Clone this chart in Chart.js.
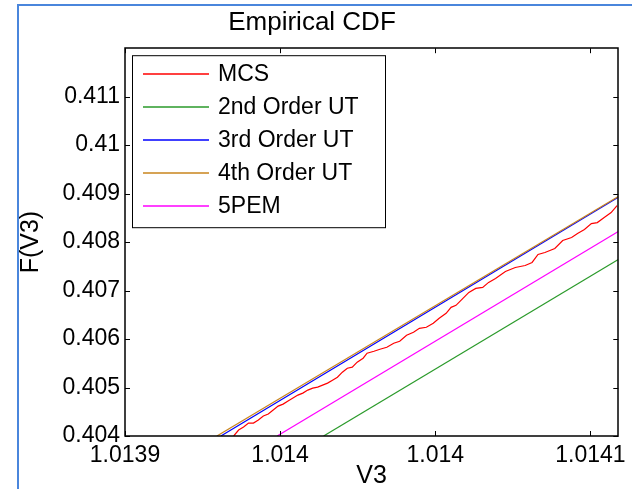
<!DOCTYPE html>
<html>
<head>
<meta charset="utf-8">
<script src="https://cdn.jsdelivr.net/npm/chart.js@4.4.1/dist/chart.umd.min.js"></script>
<style>
html, body { margin: 0; padding: 0; background: #fff; }
</style>
</head>
<body>
<canvas id="cdfChart" width="632" height="489"></canvas>
<script>
// Monte Carlo empirical CDF of V3 (stepped trace)
const mcsX = [1.01393503, 1.01393662, 1.01393822, 1.01393981, 1.01394140, 1.01394299, 1.01394459, 1.01394618,
    1.01394777, 1.01394936, 1.01395096, 1.01395255, 1.01395414, 1.01395573, 1.01395732, 1.01395892,
    1.01396051, 1.01396210, 1.01396369, 1.01396529, 1.01396688, 1.01396847, 1.01397006, 1.01397166,
    1.01397325, 1.01397484, 1.01397675, 1.01397803, 1.01398025, 1.01398217, 1.01398439, 1.01398662,
    1.01398854, 1.01399076, 1.01399299, 1.01399490, 1.01399713, 1.01399936, 1.01400127, 1.01400350,
    1.01400510, 1.01400669, 1.01400892, 1.01401083, 1.01401306, 1.01401529, 1.01401720, 1.01401943,
    1.01402261, 1.01402580, 1.01402898, 1.01403121, 1.01403312, 1.01403535, 1.01403854, 1.01404108,
    1.01404395, 1.01404586, 1.01404809, 1.01405032, 1.01405223, 1.01405446, 1.01405669, 1.01405860];
const mcsY = [0.404000, 0.404123, 0.404185, 0.404267, 0.404267, 0.404329, 0.404412, 0.404453,
    0.404535, 0.404617, 0.404658, 0.404720, 0.404782, 0.404844, 0.404885, 0.404947,
    0.404988, 0.405008, 0.405049, 0.405091, 0.405152, 0.405214, 0.405317, 0.405399,
    0.405420, 0.405523, 0.405605, 0.405708, 0.405749, 0.405790, 0.405831, 0.405914,
    0.405955, 0.406078, 0.406140, 0.406222, 0.406243, 0.406325, 0.406428, 0.406531,
    0.406654, 0.406695, 0.406839, 0.406963, 0.407045, 0.407066, 0.407169, 0.407251,
    0.407395, 0.407477, 0.407518, 0.407580, 0.407745, 0.407786, 0.407868, 0.408033,
    0.408095, 0.408177, 0.408259, 0.408383, 0.408403, 0.408506, 0.408609, 0.408753];

// UT / PEM approximations (straight over this window)
const ut2X = [1.01396401, 1.01405900];
const ut2Y = [0.404000, 0.407642];
const ut3X = [1.01393090, 1.01405900];
const ut3Y = [0.404000, 0.408925];
const ut4X = [1.01392962, 1.01405900];
const ut4Y = [0.404000, 0.408940];
const pemX = [1.01394904, 1.01405900];
const pemY = [0.404000, 0.408218];

const seriesNames = ['MCS', '2nd Order UT', '3rd Order UT', '4th Order UT', '5PEM'];
const seriesColors = ['#ff0000', '#2a9a2a', '#0000ff', '#c8841c', '#ff00ff'];

const xTickValues = [1.0139, 1.01395, 1.0140, 1.01405];
const xTickLabels = ['1.0139', '1.014', '1.014', '1.0141'];
const yTickValues = [0.404, 0.405, 0.406, 0.407, 0.408, 0.409, 0.410, 0.411];
const yTickLabels = ['0.404', '0.405', '0.406', '0.407', '0.408', '0.409', '0.41', '0.411'];

const FONT = '"Liberation Sans", Arial, sans-serif';

function toPoints(xs, ys) {
    return xs.map((x, i) => ({ x: x, y: ys[i] }));
}

const seriesData = [
    toPoints(mcsX, mcsY),
    toPoints(ut2X, ut2Y),
    toPoints(ut3X, ut3Y),
    toPoints(ut4X, ut4Y),
    toPoints(pemX, pemY)
];

// box around the axes with inward tick marks on every side, plus the legend and outer frame
const matlabAxes = {
    id: 'matlabAxes',
    afterDraw(chart) {
        const ctx = chart.ctx;
        const a = chart.chartArea;
        const xs = chart.scales.x, ys = chart.scales.y;
        ctx.save();
        ctx.strokeStyle = '#000';
        ctx.lineWidth = 1;
        ctx.beginPath();
        xs.ticks.forEach(t => {
            const px = Math.round(xs.getPixelForValue(t.value)) + 0.5;
            ctx.moveTo(px, a.bottom); ctx.lineTo(px, a.bottom - 5);
            ctx.moveTo(px, a.top); ctx.lineTo(px, a.top + 5);
        });
        ys.ticks.forEach(t => {
            const py = Math.round(ys.getPixelForValue(t.value)) + 0.5;
            ctx.moveTo(a.left, py); ctx.lineTo(a.left + 5, py);
            ctx.moveTo(a.right, py); ctx.lineTo(a.right - 5, py);
        });
        ctx.stroke();
        ctx.lineWidth = 1.5;
        ctx.strokeRect(Math.round(a.left), Math.round(a.top), Math.round(a.right - a.left), Math.round(a.bottom - a.top));

        // legend
        const lx = a.left + 7, ly = a.top + 7, lw = 253, lh = 172;
        ctx.fillStyle = '#fff';
        ctx.fillRect(lx, ly, lw, lh);
        ctx.lineWidth = 1;
        ctx.strokeStyle = '#000';
        ctx.strokeRect(lx + 0.5, ly + 0.5, lw, lh);
        ctx.font = '23px ' + FONT;
        ctx.textBaseline = 'middle';
        ctx.textAlign = 'left';
        chart.data.datasets.forEach((ds, i) => {
            const ry = Math.round(ly + 19 + i * 33);
            ctx.strokeStyle = ds.borderColor;
            ctx.lineWidth = 1.5;
            ctx.beginPath();
            ctx.moveTo(lx + 11, ry);
            ctx.lineTo(lx + 77, ry);
            ctx.stroke();
            ctx.fillStyle = '#000';
            ctx.fillText(ds.label, lx + 86, ry + 1);
        });

        // outer frame
        ctx.fillStyle = '#4a86dc';
        ctx.fillRect(17, 4, 2, 485);
        ctx.fillRect(17, 4, 615, 2);
        ctx.restore();
    }
};

const ctx = document.getElementById('cdfChart').getContext('2d');
const cdfChart = new Chart(ctx, {
    type: 'line',
    data: {
        datasets: seriesNames.map((name, i) => ({
            label: name,
            data: seriesData[i],
            borderColor: seriesColors[i],
            backgroundColor: seriesColors[i],
            borderWidth: 1.2,
            pointRadius: 0,
            tension: 0,
            fill: false,
            order: seriesNames.length - i
        }))
    },
    options: {
        responsive: false,
        animation: false,
        events: [],
        layout: { padding: { left: 0, right: 8, top: 0, bottom: 0 } },
        plugins: {
            legend: { display: false },
            tooltip: { enabled: false },
            title: {
                display: true,
                text: 'Empirical CDF',
                color: '#000',
                font: { family: FONT, size: 26, weight: 'normal' },
                padding: { top: 7, bottom: 10 }
            }
        },
        scales: {
            x: {
                type: 'linear',
                min: 1.0139,
                max: 1.014059,
                afterBuildTicks: scale => { scale.ticks = xTickValues.map(v => ({ value: v })); },
                afterFit: scale => { scale.height = 53; },
                grid: { display: false, drawTicks: false },
                border: { display: false },
                ticks: {
                    color: '#000',
                    font: { family: FONT, size: 23 },
                    padding: 6,
                    maxRotation: 0,
                    autoSkip: false,
                    callback: (value, index) => xTickLabels[index]
                },
                title: {
                    display: true,
                    text: 'V3',
                    color: '#000',
                    font: { family: FONT, size: 25, lineHeight: 1 },
                    padding: { top: 0, bottom: 0 }
                }
            },
            y: {
                min: 0.404,
                max: 0.412,
                afterBuildTicks: scale => { scale.ticks = yTickValues.map(v => ({ value: v })); },
                afterFit: scale => { scale.width = 125; },
                grid: { display: false, drawTicks: false },
                border: { display: false },
                ticks: {
                    color: '#000',
                    font: { family: FONT, size: 23 },
                    padding: 5,
                    autoSkip: false,
                    callback: (value, index) => yTickLabels[index]
                },
                title: {
                    display: true,
                    text: 'F(V3)',
                    color: '#000',
                    font: { family: FONT, size: 25 },
                    padding: { top: 16, bottom: 0 }
                }
            }
        }
    },
    plugins: [matlabAxes]
});
</script>
</body>
</html>
